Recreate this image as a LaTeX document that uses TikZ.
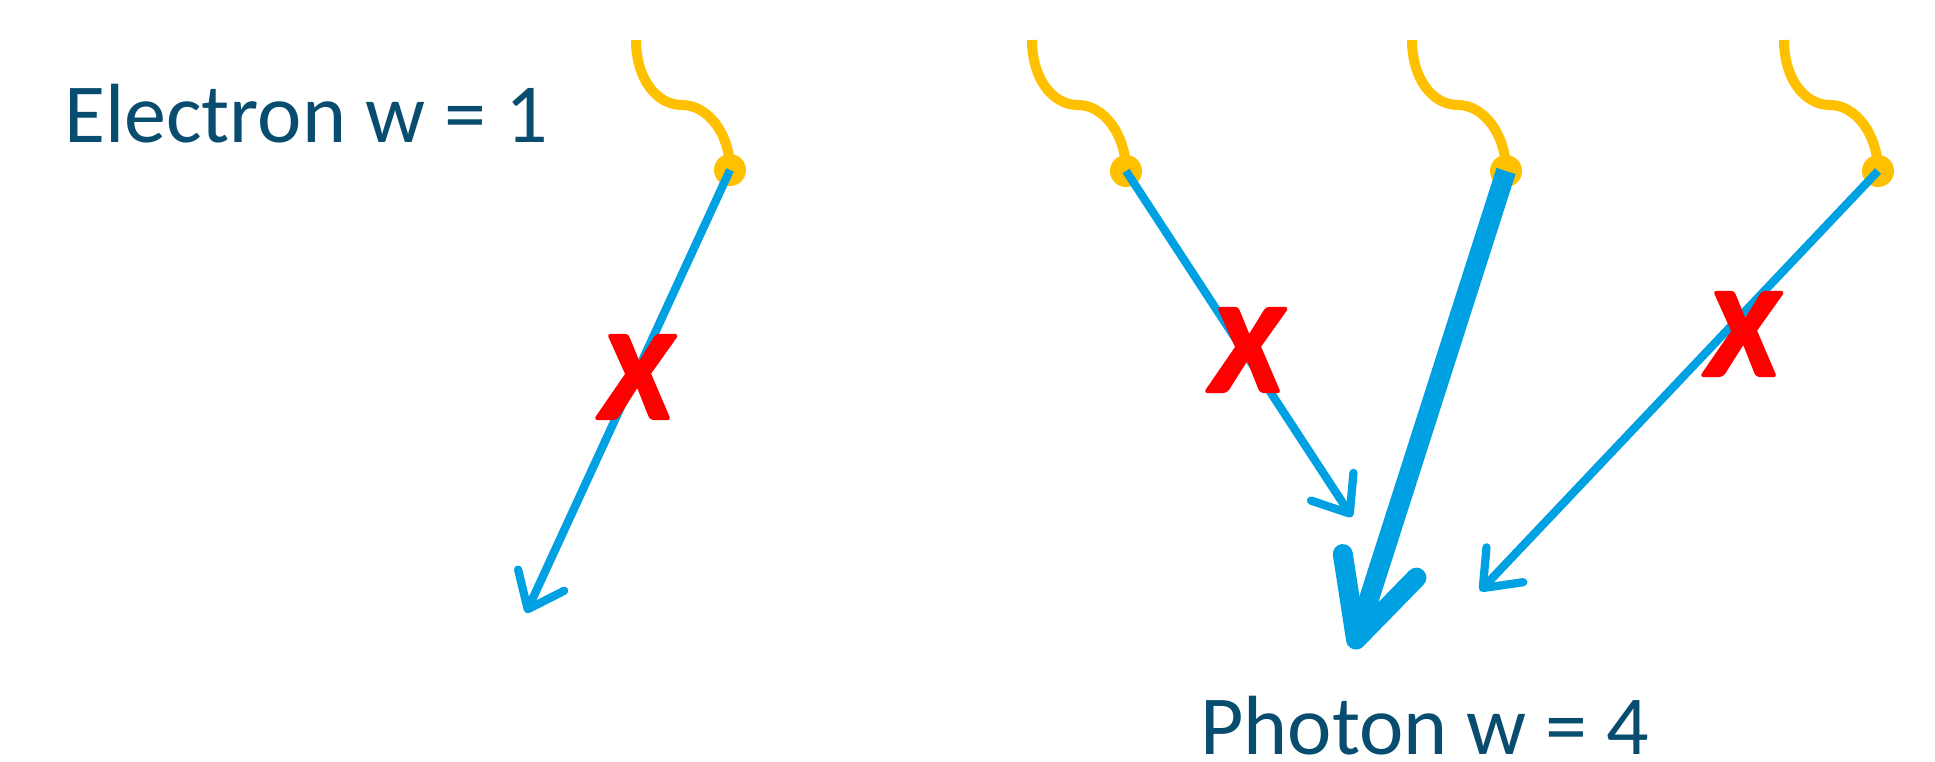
\documentclass[tikz,border=0pt]{standalone}
\usepackage{fontspec}
\setmainfont{Carlito}
\usetikzlibrary{arrows.meta}
\definecolor{wave}{RGB}{255,192,0}
\definecolor{ray}{RGB}{0,161,226}
\definecolor{label}{RGB}{8,77,111}
\definecolor{cross}{RGB}{255,0,0}
\newcommand{\heavyX}{\special{pdf:literal direct 3 w 1 j 2 Tr}X\special{pdf:literal direct 0 Tr}}
\begin{document}
\begin{tikzpicture}[x=0.75pt,y=-0.75pt,
  wavepath/.style={draw=wave, line width=7.5pt},
  vertex/.style={circle, fill=wave, minimum size=24pt, inner sep=0pt},
  thinray/.style={draw=ray, line width=6.2pt, -{Straight Barb[length=24pt,width=38pt,round]}},
  thickray/.style={draw=ray, line width=15pt, -{Straight Barb[length=58pt,width=58pt,round]}},
  crossmark/.style={text=cross, font=\fontsize{95}{95}\selectfont\bfseries\itshape, inner sep=0pt},
  caption/.style={text=label, font=\fontsize{63}{63}\selectfont, inner sep=0pt, anchor=base west}]
\useasboundingbox (0,0) rectangle (1935,761);
% labels
\node[caption] (electron) at (64,142) {Electron w = 1};
\node[caption] (photon) at (1200,754) {Photon w = 4};
% photon vertices
\node[vertex] (d1) at (730,170) {};
\node[vertex] (d2) at (1126,171) {};
\node[vertex] (d3) at (1506,171) {};
\node[vertex] (d4) at (1878,171) {};
% wave start and middle points
\coordinate (w1) at (636,40);  \coordinate (m1) at (682,105);
\coordinate (w2) at (1032,40); \coordinate (m2) at (1078,105);
\coordinate (w3) at (1412,40); \coordinate (m3) at (1458,105);
\coordinate (w4) at (1784,40); \coordinate (m4) at (1830,105);
\foreach \i in {1,2,3,4}{
  \draw[wavepath] (w\i) .. controls +(0,38) and +(-26,0) .. (m\i)
                        .. controls +(26,0) and +(0,-36) .. (d\i.center);
}
% arrow tips
\coordinate (t1) at (526,613);
\coordinate (t2) at (1352,517);
\coordinate (t3) at (1353,649);
\coordinate (t4) at (1480,591);
\draw[thinray] (d1.center) -- (t1);
\draw[thinray] (d2.center) -- (t2);
\draw[thickray] (d3.center) -- (t3);
\draw[thinray] (d4.center) -- (t4);
% crosses
\node[crossmark] (x1) at (636,377) {\heavyX};
\node[crossmark] (x2) at (1246,350) {\heavyX};
\node[crossmark] (x3) at (1742,334) {\heavyX};
\end{tikzpicture}
\end{document}
